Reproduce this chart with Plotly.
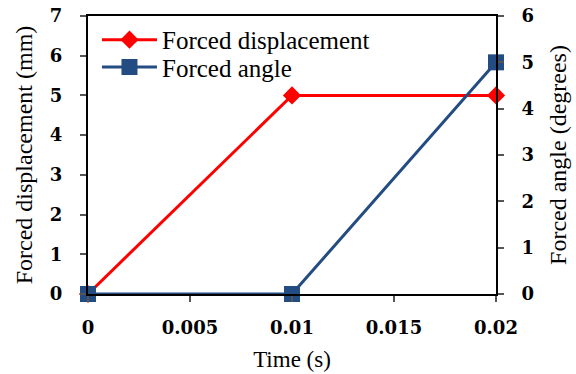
import plotly.graph_objects as go

# Time samples (s)
time_s = [0, 0.01, 0.02]
# Imposed displacement (mm) and imposed rotation (degrees)
displacement_mm = [0, 5, 5]
angle_deg = [0, 0, 5]

x_ticks = [0, 0.005, 0.01, 0.015, 0.02]
x_tick_text = ["0", "0.005", "0.01", "0.015", "0.02"]

RED = "#FF0000"
BLUE = "#234C82"
SERIF = "Liberation Serif"
TICK_FONT = "DejaVu Serif"

fig = go.Figure()

fig.add_trace(go.Scatter(
    x=time_s, y=displacement_mm, name="Forced displacement",
    mode="lines+markers", legend="legend",
    line=dict(color=RED, width=3),
    marker=dict(symbol="diamond", size=14, color=RED),
    cliponaxis=False,
))
fig.add_trace(go.Scatter(
    x=time_s, y=angle_deg, name="Forced angle", yaxis="y2",
    mode="lines+markers", legend="legend2",
    line=dict(color=BLUE, width=3),
    marker=dict(symbol="square", size=16, color=BLUE),
    cliponaxis=False,
))

axis_common = dict(
    showgrid=False, zeroline=False, showline=True, linecolor="black",
    linewidth=2, ticks="outside", tickcolor="#555", ticklen=6, tickwidth=2,
    tickfont=dict(family=TICK_FONT, size=18, color="black", weight="bold"),
)

legend_common = dict(
    x=0.022, xanchor="left", yanchor="middle",
    bgcolor="rgba(0,0,0,0)", font=dict(family=SERIF, size=25),
    itemwidth=55,
)

fig.update_layout(
    template="none",
    width=576, height=374,
    margin=dict(l=88, r=80, t=16, b=80),
    paper_bgcolor="white", plot_bgcolor="white",
    font=dict(family=SERIF, color="black"),
    showlegend=True,
    legend=dict(y=0.914, **legend_common),
    legend2=dict(y=0.816, **legend_common),
    xaxis=dict(
        range=[0, 0.02], tickvals=x_ticks, ticktext=x_tick_text,
        mirror=True, ticklabelstandoff=10,
        title=dict(text="Time (s)", font=dict(family=SERIF, size=23), standoff=14),
        **axis_common,
    ),
    yaxis=dict(
        range=[0, 7], dtick=1, ticklabelstandoff=14,
        title=dict(text="Forced displacement (mm)", font=dict(family=SERIF, size=24), standoff=10),
        **axis_common,
    ),
    yaxis2=dict(
        range=[0, 6], dtick=1, overlaying="y", side="right", ticklabelstandoff=14,
        title=dict(text="Forced angle (degrees)", font=dict(family=SERIF, size=24), standoff=16),
        **axis_common,
    ),
)

fig.write_html("out.html")
